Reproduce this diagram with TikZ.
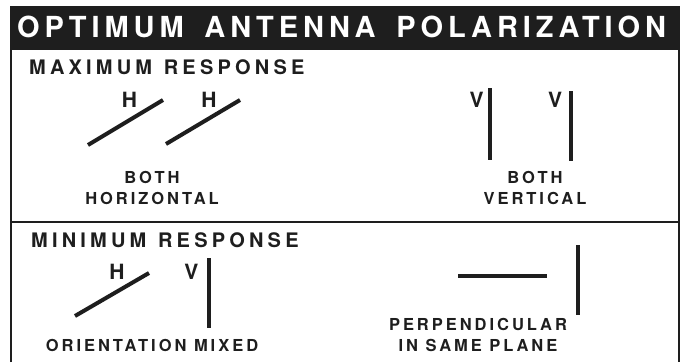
\documentclass[tikz,border=0pt]{standalone}
\usepackage{fontspec}
\setmainfont{TeX Gyre Heros}
\newfontfamily\bannerfont[LetterSpace=17, WordSpace=1.6]{TeX Gyre Heros}
\newfontfamily\sectionfont[LetterSpace=21, WordSpace=1.2]{TeX Gyre Heros}
\newfontfamily\casefont[LetterSpace=18, WordSpace=1.0]{TeX Gyre Heros}
\usepackage{tikz}
\usetikzlibrary{positioning}
\definecolor{polink}{RGB}{30, 30, 30}
\tikzset{
  antenna/.style={
    draw=polink,
    line width=4pt,
    line cap=butt
  },
  frame line/.style={
    draw=polink,
    line width=2pt
  },
  banner text/.style={
    anchor=base west,
    inner sep=0pt,
    text=white,
    font=\bannerfont\bfseries\fontsize{29}{30}\selectfont
  },
  section text/.style={
    anchor=base west,
    inner sep=0pt,
    text=polink,
    font=\sectionfont\bfseries\fontsize{20}{22}\selectfont
  },
  case text/.style={
    anchor=base,
    inner sep=0pt,
    align=center,
    text=polink,
    font=\casefont\bfseries\fontsize{16.5}{21}\selectfont
  },
  pol letter/.style={
    anchor=base,
    inner sep=0pt,
    text=polink,
    font=\bfseries\fontsize{21}{22}\selectfont
  }
}

\begin{document}
\begin{tikzpicture}[x=1pt, y=-1pt]
          \useasboundingbox (0, 0) rectangle (683, 362);
          \fill[polink] (11, 7) rectangle (680, 50);
          \draw[frame line] (11, 362) -- (11, 7) -- (679, 7) -- (679, 362);
          \draw[polink, line width=1.5pt] (11, 222) -- (679, 222);

          \node[banner text] (title) at (17, 37) {OPTIMUM ANTENNA POLARIZATION};
          \node[section text] (max) at (29, 74) {MAXIMUM RESPONSE};
          \node[section text] (min) at (31, 247) {MINIMUM RESPONSE};

          \node[pol letter] (h1) at (129.5, 107) {H};
          \node[pol letter] (h2) at (209, 107) {H};
          \node[pol letter] (v1) at (476.5, 107) {V};
          \node[pol letter] (v2) at (555, 107) {V};
          \node[pol letter] (h3) at (117, 279) {H};
          \node[pol letter] (v3) at (191.5, 279) {V};

          \draw[antenna] (88, 145) -- (163, 100);
          \draw[antenna] (166, 144) -- (240, 100);
          \draw[antenna] (490, 88) -- (490, 160);
          \draw[antenna] (571, 91) -- (571, 161);
          \draw[antenna] (75, 316) -- (149, 273);
          \draw[antenna] (209, 258) -- (209, 328);
          \draw[antenna] (458, 276) -- (547, 276);
          \draw[antenna] (578, 245) -- (578, 315);

          \node[case text] (bothh) at (152, 204) {BOTH\\HORIZONTAL};
          \node[case text] (bothv) at (535, 204) {BOTH\\VERTICAL};
          \node[case text] (mixed) at (152, 351) {ORIENTATION MIXED};
          \node[case text] (perp) at (478, 351) {PERPENDICULAR\\IN SAME PLANE};
        \end{tikzpicture}
\end{document}
